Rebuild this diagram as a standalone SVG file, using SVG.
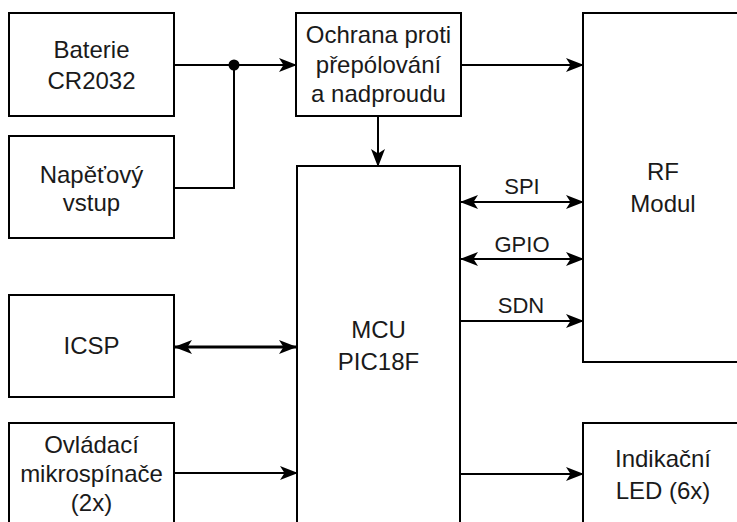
<svg xmlns="http://www.w3.org/2000/svg" width="737" height="522" viewBox="0 0 737 522">
<style>
.box{fill:#fff;stroke:#000;stroke-width:2}
.t{font-family:"Liberation Sans",Arial,sans-serif;font-size:24px;fill:#1a1a1a;text-anchor:middle}
.l{font-family:"Liberation Sans",Arial,sans-serif;font-size:22px;fill:#1a1a1a;text-anchor:middle}
.c{fill:none;stroke:#000;stroke-width:2}
</style>
<defs>
<marker id="arr" markerUnits="userSpaceOnUse" viewBox="0 0 18 14" refX="17" refY="7" markerWidth="18" markerHeight="14" orient="auto-start-reverse">
<path d="M0,0 L18,7 L0,14 L4.5,7 z" fill="#000"/>
</marker>
</defs>
<rect width="737" height="522" fill="#fff"/>
<g id="bat"><rect class="box" x="9" y="13" width="165" height="103"/><text class="t" x="91.5" y="58">Baterie</text><text class="t" x="91.5" y="89">CR2032</text></g>
<g id="nap"><rect class="box" x="9" y="136" width="165" height="102"/><text class="t" x="91.5" y="183">Napěťový</text><text class="t" x="91.5" y="211">vstup</text></g>
<g id="icsp"><rect class="box" x="9" y="295" width="165" height="102"/><text class="t" x="91.5" y="354">ICSP</text></g>
<g id="ovl"><rect class="box" x="9" y="423" width="165" height="110"/><text class="t" x="91.5" y="453">Ovládací</text><text class="t" x="91.5" y="482">mikrospínače</text><text class="t" x="91.5" y="511">(2x)</text></g>
<g id="och"><rect class="box" x="296" y="13" width="165" height="103"/><text class="t" x="378.5" y="43">Ochrana proti</text><text class="t" x="378.5" y="73">přepólování</text><text class="t" x="378.5" y="102">a nadproudu</text></g>
<g id="mcu"><rect class="box" x="297" y="166" width="163" height="380"/><text class="t" x="378.5" y="338">MCU</text><text class="t" x="378.5" y="370">PIC18F</text></g>
<g id="rf"><rect class="box" x="583" y="13" width="162" height="349"/><text class="t" x="663" y="180">RF</text><text class="t" x="663" y="212">Modul</text></g>
<g id="led"><rect class="box" x="583" y="423" width="162" height="110"/><text class="t" x="663" y="467">Indikační</text><text class="t" x="663" y="499">LED (6x)</text></g>
<g id="connectors">
<line class="c" x1="174" y1="65" x2="296" y2="65" marker-end="url(#arr)"/>
<polyline class="c" points="174,188 234,188 234,65"/>
<circle cx="234" cy="65" r="5.5" fill="#000"/>
<line class="c" x1="461" y1="65" x2="583" y2="65" marker-end="url(#arr)"/>
<line class="c" x1="378" y1="116" x2="378" y2="166" marker-end="url(#arr)"/>
<line class="c" style="stroke-width:3" x1="175" y1="347" x2="296" y2="347" marker-start="url(#arr)" marker-end="url(#arr)"/>
<line class="c" x1="174" y1="473" x2="297" y2="473" marker-end="url(#arr)"/>
<line class="c" x1="461" y1="202" x2="583" y2="202" marker-start="url(#arr)" marker-end="url(#arr)"/>
<line class="c" x1="461" y1="259" x2="583" y2="259" marker-start="url(#arr)" marker-end="url(#arr)"/>
<line class="c" x1="460" y1="321" x2="583" y2="321" marker-end="url(#arr)"/>
<line class="c" x1="460" y1="474" x2="583" y2="474" marker-end="url(#arr)"/>
<text class="l" x="522" y="194">SPI</text>
<text class="l" x="522" y="252">GPIO</text>
<text class="l" x="521" y="313">SDN</text>
</g>
</svg>
